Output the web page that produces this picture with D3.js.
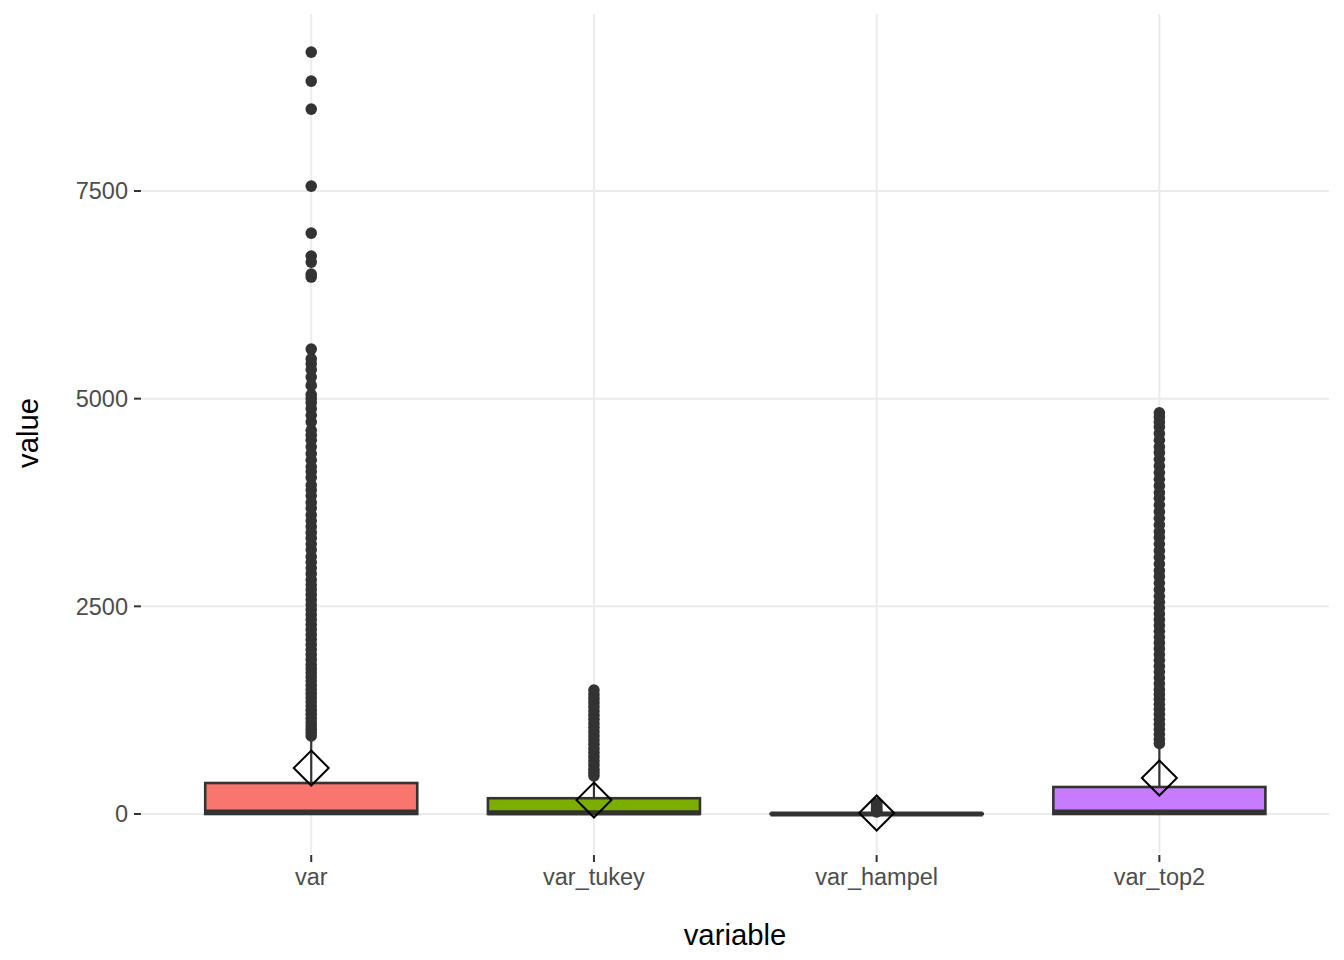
<!DOCTYPE html>
<html><head><meta charset="utf-8">
<script src="https://cdn.jsdelivr.net/npm/d3@7"></script>
<style>body{margin:0;background:#fff;} text{font-family:"Liberation Sans",Arial,sans-serif;}</style>
</head><body><svg id="c" width="1344" height="960"></svg>
<script>
const categories = ["var","var_tukey","var_hampel","var_top2"];
const fills = ["#F8766D","#7CAE00","#00BFC4","#C77CFF"];
const q1 = [0, 0, 0, 0];
const medians = [25, 15, 0, 25];
const q3 = [373, 190, 3, 325];
const whiskerLow = [0, 0, 0, 0];
const whiskerHigh = [920, 430, 8, 815];
const means = [553, 168, 12, 433];
const yTicks = [0, 2500, 5000, 7500];

const outliersVar = [9172, 8823, 8486, 7559, 6993, 6716, 6644, 6500, 6464,
  5597, 5480, 5420, 5350, 5260, 5160, 5050, 5000, 4950, 4880, 4800, 4720, 4620, 4560, 4500,
  4420, 4340, 4260, 4180, 4120, 4050, 3960, 3900, 3830, 3750, 3680, 3600, 3530, 3460, 3390,
  3320, 3250, 3180, 3100, 3030, 2960, 2890, 2820, 2760, 2700, 2640, 2580, 2520, 2460, 2400,
  2340, 2280, 2220, 2160, 2100, 2040, 1980, 1920, 1860, 1800, 1750, 1700, 1650, 1600, 1550,
  1500, 1450, 1400, 1350, 1300, 1250, 1200, 1150, 1100, 1060, 1020, 980, 940];
const outliersTukey = [1493, 1440, 1390, 1340, 1290, 1240, 1190, 1140, 1090, 1040, 990, 940,
  890, 840, 790, 740, 690, 640, 590, 540, 500, 460];
const outliersHampel = [130, 110, 90, 70, 50, 35, 25];
const outliersTop2 = [4830, 4780, 4720, 4660, 4580, 4500, 4420, 4350, 4270, 4190, 4110, 4030,
  3950, 3870, 3800, 3720, 3640, 3560, 3480, 3400, 3330, 3250, 3170, 3090, 3010, 2930, 2860,
  2780, 2700, 2620, 2550, 2480, 2410, 2340, 2270, 2200, 2130, 2060, 1990, 1920, 1850, 1780,
  1710, 1640, 1570, 1500, 1440, 1380, 1320, 1260, 1200, 1140, 1080, 1020, 960, 900, 850];
const outliers = [outliersVar, outliersTukey, outliersHampel, outliersTop2];

const svg = d3.select("#c");
const pLeft = 141.6, pRight = 1329, pTop = 14, pBottom = 853;
const x = d3.scaleLinear().domain([0.4, 4.6]).range([pLeft, pRight]);
const y0 = d3.scaleLinear().domain([0, 7500]).range([814, 191]);
const y = d3.scaleLinear().domain([y0.invert(pBottom), y0.invert(pTop)]).range([pBottom, pTop]);

const grid = svg.append("g");
yTicks.forEach(t => grid.append("line").attr("x1", pLeft).attr("x2", pRight)
  .attr("y1", y(t)).attr("y2", y(t)).attr("stroke", "#ebebeb").attr("stroke-width", 2));
categories.forEach((c, i) => grid.append("line").attr("x1", x(i + 1)).attr("x2", x(i + 1))
  .attr("y1", pTop).attr("y2", pBottom).attr("stroke", "#ebebeb").attr("stroke-width", 2));

// y axis
const yAxis = svg.append("g");
yTicks.forEach(t => {
  yAxis.append("line").attr("x1", 134).attr("x2", 141).attr("y1", y(t)).attr("y2", y(t))
    .attr("stroke", "#333").attr("stroke-width", 2);
  yAxis.append("text").attr("x", 128).attr("y", y(t)).attr("dy", "0.35em")
    .attr("text-anchor", "end").attr("font-size", 23.5).attr("fill", "#4d4d4d").text(t);
});
// x axis
categories.forEach((c, i) => {
  svg.append("line").attr("x1", x(i + 1)).attr("x2", x(i + 1)).attr("y1", 855).attr("y2", 862)
    .attr("stroke", "#333").attr("stroke-width", 2);
  svg.append("text").attr("x", x(i + 1)).attr("y", 877).attr("dy", "0.35em")
    .attr("text-anchor", "middle").attr("font-size", 23.5).attr("fill", "#4d4d4d").text(c);
});
svg.append("text").attr("x", 735).attr("y", 935).attr("dy", "0.35em").attr("text-anchor", "middle")
  .attr("font-size", 29.3).attr("fill", "#000").text("variable");
svg.append("text").attr("transform", "translate(28,433) rotate(-90)").attr("dy", "0.35em")
  .attr("text-anchor", "middle").attr("font-size", 29.3).attr("fill", "#000").text("value");

const bw = 0.75;
categories.forEach((c, i) => {
  const g = svg.append("g");
  const cx = x(i + 1), x0 = x(i + 1 - bw / 2), x1 = x(i + 1 + bw / 2);
  g.selectAll("circle").data(outliers[i]).join("circle")
    .attr("cx", cx).attr("cy", d => y(d)).attr("r", 5.8).attr("fill", "#333");
  g.append("line").attr("x1", cx).attr("x2", cx).attr("y1", y(q3[i])).attr("y2", y(whiskerHigh[i]))
    .attr("stroke", "#333").attr("stroke-width", 2.2);
  g.append("line").attr("x1", cx).attr("x2", cx).attr("y1", y(q1[i])).attr("y2", y(whiskerLow[i]))
    .attr("stroke", "#333").attr("stroke-width", 2.2);
  g.append("rect").attr("x", x0).attr("width", x1 - x0).attr("y", y(q3[i]))
    .attr("height", Math.max(0, y(q1[i]) - y(q3[i]))).attr("fill", fills[i])
    .attr("stroke", "#333").attr("stroke-width", 2.6);
  g.append("line").attr("x1", x0).attr("x2", x1).attr("y1", y(medians[i])).attr("y2", y(medians[i]))
    .attr("stroke", "#333").attr("stroke-width", 5);
  const my = y(means[i]), h = 17.5;
  g.append("path").attr("d", `M${cx},${my - h}L${cx + h},${my}L${cx},${my + h}L${cx - h},${my}Z`)
    .attr("fill", "none").attr("stroke", "#000").attr("stroke-width", 2);
});
</script></body></html>
